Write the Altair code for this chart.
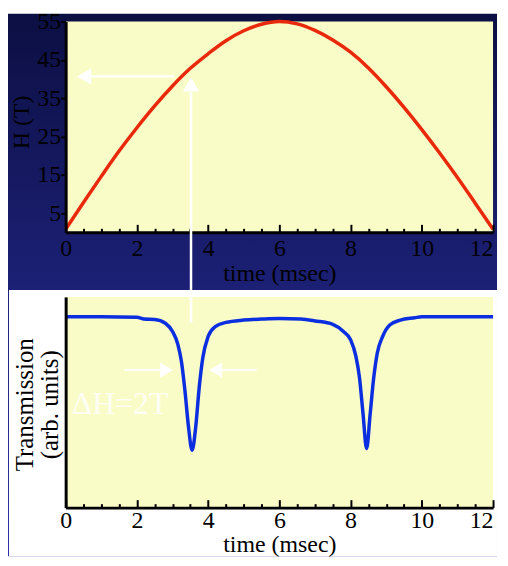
import altair as alt
import pandas as pd

FONT = "Liberation Serif"

# ---- top panel: pulsed magnetic field H(t) ----
h_time = [0, 0.5, 1, 1.5, 2, 2.5, 3, 3.5, 4, 4.5, 5, 5.5, 6,
          6.5, 7, 7.5, 8, 8.5, 9, 9.5, 10, 10.5, 11, 11.5, 12]
h_field = [0.8, 7.8, 14.6, 21.2, 27.3, 33.0, 38.2, 42.8, 46.6, 50.0, 52.6, 54.3, 55.0,
           54.4, 52.7, 50.2, 47.0, 42.9, 38.0, 32.6, 26.8, 20.7, 14.3, 7.6, 0.8]
h_ticks = [5, 15, 25, 35, 45, 55]

# ---- bottom panel: transmission vs time ----
tr_time = [0, 1, 2, 2.2, 2.5, 2.8, 3.0, 3.15, 3.25, 3.35, 3.45, 3.55, 3.65, 3.75, 3.85,
           4.0, 4.2, 4.5, 5.0, 5.5, 6.0, 6.6, 7.0, 7.5, 7.8, 8.0, 8.15, 8.25, 8.35, 8.45,
           8.55, 8.65, 8.75, 8.9, 9.1, 9.4, 9.8, 10.0, 11, 12]
tr_val = [0.906, 0.906, 0.903, 0.895, 0.893, 0.875, 0.836, 0.775, 0.695, 0.554, 0.382,
          0.272, 0.38, 0.57, 0.71, 0.812, 0.859, 0.879, 0.89, 0.895, 0.898, 0.895, 0.886,
          0.870, 0.836, 0.797, 0.718, 0.617, 0.445, 0.28, 0.445, 0.617, 0.734, 0.812,
          0.867, 0.89, 0.901, 0.906, 0.906, 0.906]

x_major = [0, 2, 4, 6, 8, 10, 12]
x_minor = [i * 0.5 for i in range(25)]
annotation_text = ["ΔH=2T"]

# annotation geometry (data units)
top_arrow = pd.DataFrame({"t1": [0.6], "t2": [3.05], "h": [40.7]})
top_heads = pd.DataFrame({"t": [0.52, 3.52], "h": [40.7, 38.6],
                          "shape": ["triangle-left", "triangle-up"]})
bot_arrows = pd.DataFrame({"t1": [1.65, 4.4], "t2": [2.65, 5.36], "v": [0.6526, 0.6526]})
bot_heads = pd.DataFrame({"t": [2.83, 4.21], "v": [0.6526, 0.6526],
                          "shape": ["triangle-right", "triangle-left"]})
label_df = pd.DataFrame({"t": [0.17], "v": [0.446], "label": annotation_text})

one = pd.DataFrame({"k": [0]})
h_df = pd.DataFrame({"t": h_time, "h": h_field})
tr_df = pd.DataFrame({"t": tr_time, "v": tr_val})

W = 430
H_TOP = 212
H_BOT = 212
YELLOW = "#fafcc8"

xscale = alt.Scale(domain=[0, 12], nice=False, zero=False)


def bottom_axis(pad, title_y):
    return alt.Axis(values=x_major, ticks=False, tickSize=0, domain=True,
                    domainColor="black", domainWidth=3, grid=False, zindex=2,
                    labelFont=FONT, labelFontSize=24, labelColor="black",
                    labelPadding=pad, labelFlush=False, labelOverlap=False,
                    labelAlign={"condition": {"test": "datum.value === 12",
                                              "value": "right"},
                                "value": "center"},
                    title="time (msec)", titleFont=FONT, titleFontSize=24,
                    titleFontWeight="normal", titleColor="black",
                    titleY=title_y, titleBaseline="alphabetic")


def tick_axis(h):
    return alt.Axis(orient="top", offset=-h, values=x_minor, labels=False,
                    domain=False, grid=False, ticks=True, tickColor="black",
                    tickWidth=2, zindex=2,
                    tickSize={"condition": {"test": "datum.value % 2 === 0", "value": 8},
                              "value": 4},
                    title=None)


gradient = alt.LinearGradient(
    gradient="linear",
    stops=[alt.GradientStop(color="#0c0f42", offset=0),
           alt.GradientStop(color="#2c31a8", offset=1)],
    x1=0, x2=0, y1=0, y2=1)

# ---------------- top chart ----------------
bg = alt.Chart(one).mark_rect(color=gradient).encode(
    x=alt.value(-58), x2=alt.value(434), y=alt.value(-8), y2=alt.value(538))
top_yellow = alt.Chart(one).mark_rect(color=YELLOW).encode(
    x=alt.value(0), x2=alt.value(W), y=alt.value(0), y2=alt.value(H_TOP))

red = alt.Chart(h_df).mark_line(color="#e8290b", strokeWidth=3.5,
                                interpolate="monotone").encode(
    x=alt.X("t:Q", scale=xscale, axis=bottom_axis(4, 48)),
    y=alt.Y("h:Q", scale=alt.Scale(domain=[0, 55], nice=False, zero=False),
            axis=alt.Axis(orient="left", values=h_ticks, domain=True,
                          domainColor="black", domainWidth=3, ticks=True,
                          tickColor="black", tickWidth=2, tickSize=5, grid=False,
                          zindex=2, labelFont=FONT, labelFontSize=24,
                          labelColor="black", labelPadding=0,
                          title="H (T)", titleFont=FONT, titleFontSize=24,
                          titleFontWeight="normal", titleColor="black",
                          titleX=-37, titleY=101, titleBaseline="alphabetic")))

top_rule = alt.Chart(top_arrow).mark_rule(color="white", strokeWidth=2.5).encode(
    x=alt.X("t1:Q", scale=xscale, axis=tick_axis(H_TOP)),
    x2="t2:Q",
    y=alt.Y("h:Q", axis=None))

top_head = alt.Chart(top_heads).mark_point(filled=True, color="white",
                                           opacity=1, size=270).encode(
    x=alt.X("t:Q", scale=xscale, axis=None),
    y=alt.Y("h:Q", axis=None),
    shape=alt.Shape("shape:N", scale=None))

top = alt.layer(bg, top_yellow, red, top_rule, top_head).resolve_axis(
    x="independent", y="independent").properties(width=W, height=H_TOP)

# ---------------- bottom chart ----------------
white = alt.Chart(one).mark_rect(color="white").encode(
    x=alt.value(-57), x2=alt.value(434), y=alt.value(-7), y2=alt.value(261))
bot_yellow = alt.Chart(one).mark_rect(color=YELLOW).encode(
    x=alt.value(0), x2=alt.value(W), y=alt.value(0), y2=alt.value(H_BOT))

yscale_b = alt.Scale(domain=[0, 1], nice=False, zero=False)

blue = alt.Chart(tr_df).mark_line(color="#0b2fe0", strokeWidth=3.5,
                                  interpolate="monotone").encode(
    x=alt.X("t:Q", scale=xscale, axis=bottom_axis(1, 44)),
    y=alt.Y("v:Q", scale=yscale_b,
            axis=alt.Axis(orient="left", domain=True, domainColor="black",
                          domainWidth=3, ticks=False, labels=False, grid=False,
                          zindex=2,
                          title=["Transmission", "(arb. units)"], titleFont=FONT,
                          titleFontSize=25, titleFontWeight="normal",
                          titleColor="black", titleLineHeight=25,
                          titleX=-33, titleY=108, titleBaseline="alphabetic")))

bot_rule = alt.Chart(bot_arrows).mark_rule(color="white", strokeWidth=2).encode(
    x=alt.X("t1:Q", scale=xscale, axis=tick_axis(H_BOT)),
    x2="t2:Q",
    y=alt.Y("v:Q", scale=yscale_b, axis=None))

bot_head = alt.Chart(bot_heads).mark_point(filled=True, color="white",
                                           opacity=1, size=230).encode(
    x=alt.X("t:Q", scale=xscale, axis=None),
    y=alt.Y("v:Q", scale=yscale_b, axis=None),
    shape=alt.Shape("shape:N", scale=None))

label = alt.Chart(label_df).mark_text(font=FONT, fontSize=32, color="white",
                                      opacity=0.85, align="left",
                                      baseline="alphabetic").encode(
    x=alt.X("t:Q", scale=xscale, axis=None),
    y=alt.Y("v:Q", scale=yscale_b, axis=None),
    text="label:N")

vline = alt.Chart(one).mark_rule(color="white", strokeWidth=2.5).encode(
    x=alt.X(datum=3.52, type="quantitative", scale=xscale, axis=None),
    y=alt.value(26), y2=alt.value(-206))

bottom = alt.layer(white, bot_yellow, blue, bot_rule, bot_head, label, vline).resolve_axis(
    x="independent", y="independent").properties(width=W, height=H_BOT)

chart = alt.vconcat(top, bottom, spacing=65, bounds="flush").properties(
    padding=0, background="white").configure_view(strokeWidth=0)

chart.save("out.html", embed_options={"renderer": "svg", "actions": False})
